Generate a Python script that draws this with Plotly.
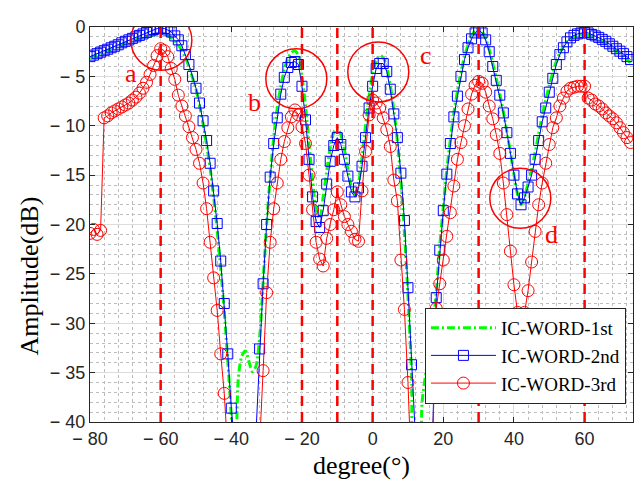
import plotly.graph_objects as go

# Scan angles (degrees) shared by all three beam patterns
degrees = list(range(-80, 74))

# Normalised beam pattern amplitude in dB, one value per degree (-80 ... 73)
gain_1st = [
    -3.15, -3.0, -2.85, -2.7, -2.55, -2.4, -2.25, -2.1, -1.95, -1.8,
    -1.65, -1.5, -1.4, -1.3, -1.15, -1.05, -0.95, -0.85, -0.8, -0.75,
    -0.7, -0.75, -0.9, -1.1, -1.4, -1.8, -2.4, -3.1, -4.0, -5.1,
    -6.3, -7.9, -9.8, -11.9, -14.3, -17.2, -20.6, -24.5, -28.8, -33.8,
    -39.5, -48.0, -35.5, -33.3, -32.8, -33.9, -34.9, -34.3, -31.5, -25.8,
    -20.0, -15.2, -11.2, -8.2, -6.0, -4.3, -3.2, -2.6, -2.4, -2.9,
    -5.0, -8.0, -11.8, -15.5, -18.5, -19.4, -17.2, -14.6, -12.2, -10.7,
    -10.2, -10.9, -12.4, -14.4, -16.2, -16.9, -15.8, -13.2, -10.0, -7.0,
    -4.8, -3.4, -2.9, -3.1, -4.1, -5.9, -8.4, -11.6, -15.6, -20.8,
    -27.2, -34.9, -46.0, -46.0, -38.0, -35.2, -32.8, -30.5, -26.8, -22.2,
    -18.2, -14.5, -11.4, -8.7, -6.5, -4.6, -3.0, -1.8, -0.9, -0.4,
    -0.3, -0.5, -1.2, -2.3, -3.7, -5.2, -6.8, -8.6, -10.6, -12.7,
    -14.9, -16.9, -18.0, -17.2, -15.8, -14.4, -12.7, -10.8, -9.0, -7.4,
    -5.9, -4.6, -3.5, -2.6, -2.0, -1.5, -1.2, -1.0, -0.9, -0.8,
    -0.8, -0.85, -0.95, -1.1, -1.3, -1.5, -1.7, -1.95, -2.2, -2.45,
    -2.7, -3.0, -3.3, -3.6,
]

gain_2nd = [
    -3.0, -2.85, -2.7, -2.55, -2.4, -2.25, -2.1, -1.95, -1.8, -1.6,
    -1.45, -1.3, -1.15, -1.0, -0.85, -0.7, -0.55, -0.4, -0.25, -0.15,
    -0.1, -0.15, -0.3, -0.5, -0.9, -1.3, -1.9, -2.8, -3.8, -5.0,
    -6.2, -7.7, -9.5, -11.5, -13.8, -16.6, -19.9, -23.7, -28.0, -33.1,
    -38.6, -43.3, -50.0, -55.0, -55.0, -55.0, -50.0, -41.0, -32.6, -26.0,
    -20.0, -15.2, -11.8, -9.2, -6.8, -5.1, -4.1, -3.6, -3.5, -3.8,
    -6.0, -9.4, -13.4, -17.2, -19.7, -20.3, -18.6, -15.9, -13.6, -12.0,
    -11.2, -11.9, -13.4, -15.1, -16.7, -17.2, -16.3, -14.1, -11.2, -8.2,
    -6.0, -4.2, -3.7, -3.7, -4.5, -6.3, -8.8, -11.2, -14.8, -19.6,
    -26.4, -34.2, -46.0, -50.0, -55.0, -50.0, -45.0, -41.0, -27.4, -22.6,
    -18.6, -14.9, -11.8, -9.1, -7.0, -5.0, -3.3, -2.1, -1.2, -0.6,
    -0.3, -0.6, -1.3, -2.5, -4.0, -5.4, -6.9, -8.7, -10.7, -12.8,
    -15.0, -16.9, -18.0, -17.3, -16.2, -15.0, -13.4, -11.5, -9.6, -8.2,
    -6.6, -5.2, -3.8, -2.8, -2.1, -1.5, -1.1, -0.85, -0.7, -0.6,
    -0.55, -0.6, -0.75, -0.9, -1.05, -1.25, -1.45, -1.7, -1.95, -2.2,
    -2.45, -2.7, -3.0, -3.3,
]

gain_3rd = [
    -20.9, -20.5, -21.0, -20.6, -9.2, -9.0, -8.7, -8.5, -8.3, -8.1,
    -7.9, -7.7, -7.4, -7.1, -6.7, -6.2, -5.6, -4.8, -3.9, -2.9,
    -2.2, -2.4, -3.0, -4.2, -5.3, -6.9, -8.0, -9.0, -10.1, -11.2,
    -12.4, -13.8, -15.8, -18.4, -21.8, -25.4, -28.7, -33.1, -37.1, -43.0,
    -50.0, -55.0, -55.0, -55.0, -55.0, -55.0, -55.0, -50.0, -41.5, -34.8,
    -26.9, -21.8, -18.4, -15.8, -13.4, -11.6, -10.2, -9.1, -8.4, -8.9,
    -10.1, -11.8, -15.0, -18.5, -21.8, -23.5, -24.2, -21.4, -20.0, -18.5,
    -16.7, -18.0, -19.2, -20.0, -20.7, -21.5, -21.7, -16.6, -12.6, -8.9,
    -7.4, -7.7, -8.2, -9.2, -10.4, -12.1, -15.5, -17.6, -23.6, -28.6,
    -36.0, -46.0, -55.0, -55.0, -55.0, -55.0, -50.0, -42.0, -28.5, -26.0,
    -23.6, -21.2, -18.8, -16.1, -13.4, -11.7, -10.0, -8.3, -6.8, -5.9,
    -5.5, -5.7, -6.6, -8.0, -9.3, -10.9, -12.8, -15.8, -19.0, -22.7,
    -26.1, -28.9, -29.2, -28.9, -26.7, -23.8, -20.7, -18.0, -15.8, -13.8,
    -11.9, -10.2, -9.2, -8.0, -7.2, -6.5, -6.2, -6.1, -6.0, -6.0,
    -6.0, -7.2, -7.4, -7.8, -8.0, -8.3, -8.7, -9.0, -9.3, -9.7,
    -10.2, -10.7, -11.2, -11.7,
]

series_names = ["IC-WORD-1st", "IC-WORD-2nd", "IC-WORD-3rd"]

# Target directions marked with dashed lines
target_angles = [-60, -20, -10, 0, 30, 60]

# Highlighted regions: (label, circle centre angle, circle centre dB, label angle, label dB)
highlights = [
    ("a", -59.8, -1.35, -68.5, -4.75),
    ("b", -21.6, -5.25, -33.4, -7.65),
    ("c", 1.6, -4.55, 15.0, -2.9),
    ("d", 41.8, -17.35, 50.5, -21.05),
]

x_ticks = [-80, -60, -40, -20, 0, 20, 40, 60]
y_ticks = [0, -5, -10, -15, -20, -25, -30, -35, -40]


def tick_label(v):
    return f"\u2212 {abs(v)}" if v < 0 else str(v)


SERIF = "Liberation Serif, Times New Roman, serif"
SANS = "Liberation Sans, Arial, sans-serif"

fig = go.Figure()

fig.add_trace(go.Scatter(
    x=degrees, y=gain_1st, name=series_names[0], mode="lines",
    line=dict(color="#00ff00", width=3, dash="8px,3px,2px,3px", shape="spline", smoothing=0.8),
))
fig.add_trace(go.Scatter(
    x=degrees, y=gain_2nd, name=series_names[1], mode="lines+markers",
    line=dict(color="#0000ff", width=1),
    marker=dict(symbol="square-open", size=10, color="#0000ff", line=dict(width=1)),
))
fig.add_trace(go.Scatter(
    x=degrees, y=gain_3rd, name=series_names[2], mode="lines+markers",
    line=dict(color="#ff0000", width=1),
    marker=dict(symbol="circle-open", size=12, color="#ff0000", line=dict(width=1)),
))

# Dashed markers at the target directions
for a in target_angles:
    fig.add_shape(type="line", xref="x", yref="y", x0=a, x1=a, y0=-40, y1=0,
                  line=dict(color="#ff0000", width=2.5, dash="10px,6px"), layer="above")

# Circles around highlighted lobes, with their letters
for label, cx, cy, lx, ly in highlights:
    fig.add_shape(type="circle", xref="x", yref="y", xsizemode="pixel", ysizemode="pixel",
                  xanchor=cx, yanchor=cy, x0=-30.5, x1=30.5, y0=-30, y1=30,
                  line=dict(color="#ff0000", width=1.5), layer="above")
    fig.add_annotation(x=lx, y=ly, xref="x", yref="y", text=label, showarrow=False,
                       font=dict(family=SERIF, size=26, color="#ff0000"))

# Axis titles
fig.add_annotation(x=0.5, y=-0.11, xref="paper", yref="paper", text="degree(°)",
                   showarrow=False, yanchor="middle",
                   font=dict(family=SERIF, size=26, color="#000000"))
fig.add_annotation(x=-0.111, y=0.37, xref="paper", yref="paper", text="Amplitude(dB)",
                   showarrow=False, textangle=-90, xanchor="center", yanchor="middle",
                   font=dict(family=SERIF, size=26, color="#000000"))

axis_common = dict(
    showline=True, linecolor="#262626", linewidth=1, mirror="ticks",
    ticks="inside", ticklen=5, tickcolor="#262626",
    showgrid=True, gridcolor="#dcdcdc", gridwidth=1, zeroline=False,
    tickfont=dict(family=SANS, size=18, color="#262626"),
)

fig.update_xaxes(
    range=[-80, 73.7], tickvals=x_ticks, ticktext=[tick_label(v) for v in x_ticks],
    minor=dict(dtick=4, showgrid=True, gridcolor="#bdbdbd", griddash="dot", gridwidth=1),
    **axis_common,
)
fig.update_yaxes(
    range=[-40, 0], tickvals=y_ticks, ticktext=[tick_label(v) for v in y_ticks],
    minor=dict(dtick=1, showgrid=True, gridcolor="#bdbdbd", griddash="dot", gridwidth=1),
    **axis_common,
)

fig.update_layout(
    width=635, height=488,
    margin=dict(l=90, r=2, t=27, b=66),
    paper_bgcolor="white", plot_bgcolor="white",
    showlegend=True,
    legend=dict(
        x=0.987, y=0.046, xanchor="right", yanchor="bottom",
        bgcolor="white", bordercolor="#262626", borderwidth=1,
        font=dict(family=SERIF, size=19, color="#000000"),
        itemwidth=65, tracegroupgap=0,
    ),
)

fig.write_html("out.html")
